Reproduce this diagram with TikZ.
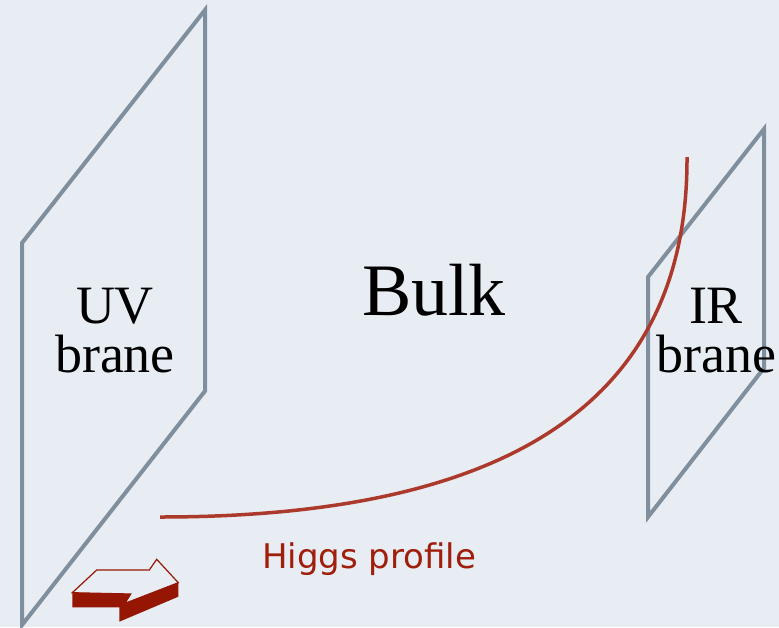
\documentclass[tikz,border=0pt]{standalone}
\usepackage{fontspec}
\setmainfont{Liberation Serif}
\newfontfamily\higgsfont{DejaVu Sans}
\definecolor{paper}{RGB}{231,237,243}
\definecolor{brane}{RGB}{128,143,158}
\definecolor{profile}{RGB}{172,58,44}
\definecolor{darkred}{RGB}{150,22,4}
\definecolor{labelred}{RGB}{160,30,12}
\tikzset{
  branecol/.style={draw=brane, line width=4pt, line join=miter},
  serif/.style={inner sep=0pt, anchor=north, align=center, font=\fontsize{54}{49}\selectfont},
}
\begin{document}
\begin{tikzpicture}[x=1pt,y=-1pt]
\fill[paper] (0,0) rectangle (779,627);
\useasboundingbox (0,0) rectangle (779,627);
% UV brane
\draw[branecol] (22,243) -- (205,10) -- (205,391) -- (22,625) -- cycle;
% IR brane
\draw[branecol] (648,277) -- (764,129) -- (764,368) -- (648,517) -- cycle;
% Higgs profile curve
\draw[draw=profile, line width=3.5pt] (160,517) .. controls (540,517) and (688,380) .. (687,157);
% labels
\node[serif] (uv) at (115,288) {UV\\brane};
\node[serif] (ir) at (716,288) {IR\\brane};
\node[inner sep=0pt, anchor=base, font=\fontsize{74}{74}\selectfont] (bulk) at (434,315) {Bulk};
\node[inner sep=0pt, anchor=base west, text=labelred, font=\higgsfont\fontsize{34}{34}\selectfont] (higgs) at (262,568) {Higgs profile};
% 3D arrow
\fill[darkred] (72.3,592.7) -- (130.7,594) -- (125,603.3) -- (178.3,582.7) -- (178.3,596.7)
  -- (119.3,621.7) -- (119.3,607.3) -- (72.3,607.3) -- cycle;
\draw[darkred, line width=1.2pt, line join=miter] (72.3,592.7) -- (96.7,570) -- (149.3,570) -- (156.7,559.3)
  -- (178.3,582.7) -- (125,603.3) -- (130.7,594) -- cycle;
\end{tikzpicture}
\end{document}
